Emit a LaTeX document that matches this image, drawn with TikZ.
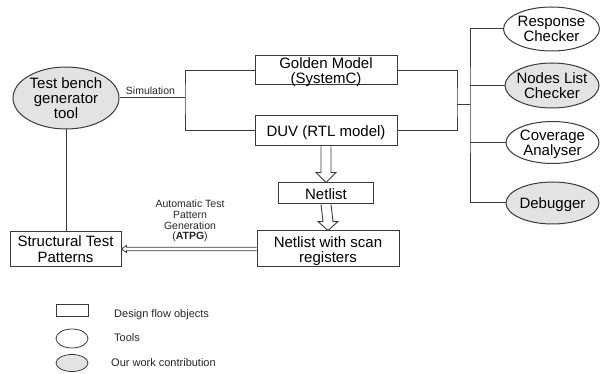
\documentclass[tikz,border=0pt]{standalone}
\usepackage{fontspec}
\setmainfont{Liberation Sans}
\usetikzlibrary{calc,shapes.geometric}
\definecolor{lc}{HTML}{3A3A3A}
\definecolor{ourgray}{HTML}{E3E3E3}
\newcommand{\mytxt}[1]{\makebox[0pt]{\raisebox{-0.4em}[0pt][0pt]{\begin{tabular}{@{}c@{}}#1\end{tabular}}}}
\tikzset{
  box/.style={draw=lc, line width=1pt, rectangle, inner sep=0pt, fill=white, font=\fontsize{15}{15.5}\selectfont},
  tool/.style={draw=lc, line width=1pt, ellipse, inner sep=0pt, fill=white, font=\fontsize{15}{14.5}\selectfont},
  ours/.style={tool, fill=ourgray},
  conn/.style={draw=lc, line width=1pt},
  blk/.style={draw=lc, line width=0.9pt, fill=white},
  small/.style={font=\fontsize{10.5}{10.7}\selectfont, text=black!85, inner sep=0pt},
  legtxt/.style={font=\fontsize{11}{12}\selectfont, text=black!85, inner sep=0pt, anchor=base west},
  legshape/.style={line width=0.8pt}
}
\begin{document}
\begin{tikzpicture}[x=1pt,y=-1pt]
\useasboundingbox (0,0) rectangle (600,374);
% main nodes
\node[ours, minimum width=106pt, minimum height=62pt] (tb) at (66,98) {\mytxt{Test bench\\generator\\tool}};
\node[box, minimum width=142pt, minimum height=29pt] (gm) at (326,70.5) {\mytxt{Golden Model\\(SystemC)}};
\node[box, minimum width=142pt, minimum height=30pt] (duv) at (326,131) {\mytxt{DUV (RTL model)}};
\node[box, minimum width=95pt, minimum height=21pt] (nl) at (326,193.5) {\mytxt{Netlist}};
\node[box, minimum width=142pt, minimum height=36pt, font=\fontsize{15}{14.5}\selectfont] (nws) at (328,249) {\mytxt{Netlist with scan\\registers}};
\node[box, minimum width=111pt, minimum height=35pt] (stp) at (65.5,249) {\mytxt{Structural Test\\Patterns}};
\node[tool, minimum width=96pt, minimum height=44pt, font=\fontsize{15}{14}\selectfont] (rc) at (551.5,29) {\mytxt{Response\\Checker}};
\node[ours, minimum width=94pt, minimum height=45pt, font=\fontsize{15}{15}\selectfont] (nlc) at (552,85.5) {\mytxt{Nodes List\\Checker}};
\node[tool, minimum width=93pt, minimum height=42pt, font=\fontsize{15}{14}\selectfont] (ca) at (552.5,142.5) {\mytxt{Coverage\\Analyser}};
\node[ours, minimum width=93pt, minimum height=42pt] (dbg) at (552.5,203) {\mytxt{Debugger}};
% connectors
\coordinate (jl) at (185,98);
\coordinate (jr) at (457,105);
\coordinate (sp) at (470,105);
\draw[conn] (tb.east) -- (jl);
\draw[conn] (gm.west) -| (jl) |- (duv.west);
\draw[conn] (gm.east) -| (jr) |- (duv.east);
\draw[conn] (jr) -- (sp);
\draw[conn] (rc.west) -| (sp) |- (dbg.west);
\draw[conn] (nlc.west) -- (nlc.west -| sp);
\draw[conn] (ca.west) -- (ca.west -| sp);
\draw[conn] (tb.south) -- (tb.south |- stp.north);
% block arrows
\draw[blk] ($(duv.south)+(-5,0)$) -- ($(nl.north)+(-5,-10)$) -- ($(nl.north)+(-10,-10)$) -- (nl.north) -- ($(nl.north)+(10,-10)$) -- ($(nl.north)+(5,-10)$) -- ($(duv.south)+(5,0)$);
\draw[blk] ($(nl.south)+(-5,0)$) -- ($(nws.north)+(-5,-9)$) -- ($(nws.north)+(-10,-9)$) -- (nws.north) -- ($(nws.north)+(10,-9)$) -- ($(nws.north)+(5,-9)$) -- ($(nl.south)+(5,0)$);
\draw[blk, line width=0.8pt] ($(nws.west)+(0,-1.7)$) -- ($(stp.east)+(5,-1.7)$) -- ($(stp.east)+(5,-3.5)$) -- (stp.east) -- ($(stp.east)+(5,3.5)$) -- ($(stp.east)+(5,1.7)$) -- ($(nws.west)+(0,1.7)$);
% labels
\node[small, anchor=base] (sim) at (150.5,95) {Simulation};
\node[small] (atpg) at (190,220) {\mytxt{Automatic Test\\Pattern\\Generation\\(\textbf{ATPG})}};
% legend
\node[box, legshape, minimum width=32pt, minimum height=12pt] (lg1) at (72,310) {};
\node[tool, legshape, minimum width=32pt, minimum height=19pt] (lg2) at (72,338.5) {};
\node[ours, legshape, minimum width=32pt, minimum height=17pt] (lg3) at (72,363) {};
\node[legtxt] (lt1) at (114,317) {Design flow objects};
\node[legtxt] (lt2) at (114,341) {Tools};
\node[legtxt] (lt3) at (111,366) {Our work contribution};
\end{tikzpicture}
\end{document}
